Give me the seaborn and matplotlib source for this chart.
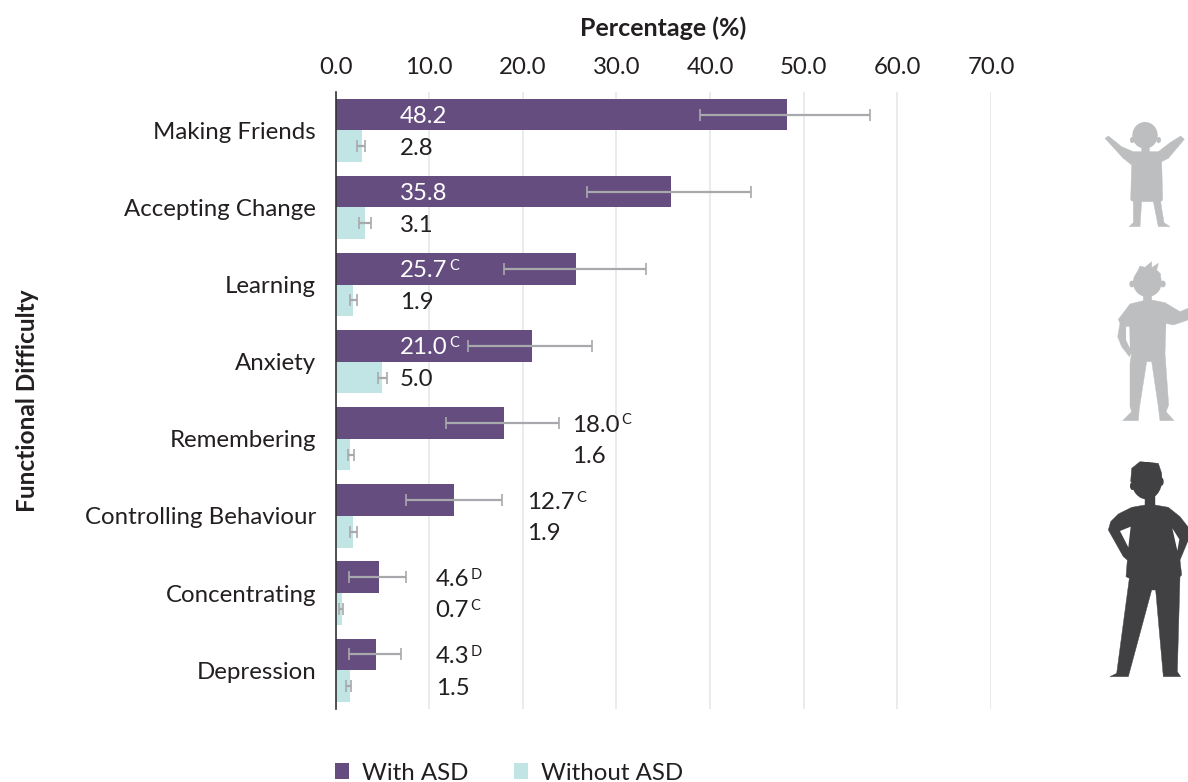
import matplotlib
matplotlib.use('Agg')
import matplotlib.pyplot as plt
from matplotlib.patches import Ellipse, Polygon
import numpy as np
import pandas as pd
import seaborn as sns

categories = ['Making Friends', 'Accepting Change', 'Learning', 'Anxiety',
              'Remembering', 'Controlling Behaviour', 'Concentrating', 'Depression']
with_asd = [48.2, 35.8, 25.7, 21.0, 18.0, 12.7, 4.6, 4.3]
without_asd = [2.8, 3.1, 1.9, 5.0, 1.6, 1.9, 0.7, 1.5]
with_low = [38.9, 26.9, 18.0, 14.1, 11.8, 7.5, 1.4, 1.4]
with_high = [57.1, 44.4, 33.2, 27.4, 23.9, 17.8, 7.5, 7.0]
without_low = [2.3, 2.5, 1.6, 4.5, 1.3, 1.6, 0.4, 1.1]
without_high = [3.2, 3.8, 2.3, 5.5, 2.0, 2.3, 0.8, 1.7]
with_notes = ['', '', 'C', 'C', 'C', 'C', 'D', 'D']
without_notes = ['', '', '', '', '', '', 'C', '']
label_x = [6.9, 6.9, 6.9, 6.9, 25.3, 20.5, 10.7, 10.7]
x_ticks = [0, 10, 20, 30, 40, 50, 60, 70]

PURPLE = '#654d80'
TEAL = '#c0e5e4'
TEXT = '#231f20'
ERR = '#a7a9ac'
FS = 17.3

sns.set_theme(style='white')
plt.rcParams['font.family'] = ['Lato', 'DejaVu Sans']
plt.rcParams['text.color'] = TEXT

df = pd.DataFrame({
    'Difficulty': categories * 2,
    'Percentage': with_asd + without_asd,
    'Group': ['With ASD'] * 8 + ['Without ASD'] * 8,
})

W, H = 1188, 782
fig = plt.figure(figsize=(W / 100, H / 100), dpi=100)
ax = fig.add_axes([335.5 / W, 1 - 708.8 / H, (991 - 335.5) / W, (708.8 - 91.8) / H])

sns.barplot(data=df, y='Difficulty', x='Percentage', hue='Group', order=categories,
            palette=[PURPLE, TEAL], width=0.82, gap=0, saturation=1, errorbar=None,
            linewidth=0, ax=ax)

ax.set_xlim(0, 70)
ax.set_ylim(7.5, -0.5)
ax.set_xticks(x_ticks, [f'{t:.1f}' for t in x_ticks])
ax.xaxis.tick_top()
ax.xaxis.set_label_position('top')
ax.tick_params(axis='x', length=0, pad=10, labelsize=FS, labelcolor=TEXT)
ax.tick_params(axis='y', length=0, pad=14, labelsize=FS, labelcolor=TEXT)
ax.set_xlabel('Percentage (%)', fontsize=18, fontweight='bold', labelpad=15, color=TEXT)
ax.set_ylabel('Functional Difficulty', fontsize=17.6, fontweight='bold', color=TEXT)
ax.yaxis.set_label_coords((39 - 335.5) / (991 - 335.5), 0.5)
ax.grid(axis='x', color='#e6e7e8', lw=1.2)
ax.set_axisbelow(True)
for side in ['top', 'right', 'bottom']:
    ax.spines[side].set_visible(False)
ax.spines['left'].set_color('#333333')
ax.spines['left'].set_linewidth(1.2)
ax.spines['left'].set_zorder(6)


def add_series(bars, vals, low, high, notes, on_bar_color):
    ys = [b.get_y() + b.get_height() / 2 for b in bars]
    vals = np.array(vals)
    xerr = [vals - np.array(low), np.array(high) - vals]
    ax.errorbar(vals, ys, xerr=xerr, fmt='none', ecolor=ERR, elinewidth=1.6,
                capsize=4.2, capthick=1.2, zorder=4)
    for i, y in enumerate(ys):
        # white text only where the label sits on a long purple bar
        col = 'white' if on_bar_color and vals[i] > label_x[i] else TEXT
        txt = ax.text(label_x[i], y, f'{vals[i]:.1f}', va='center_baseline', ha='left',
                      fontsize=FS, color=col, zorder=5)
        if notes[i]:
            ax.annotate(notes[i], xy=(1, 0.72), xycoords=txt, xytext=(1, 0),
                        textcoords='offset points', fontsize=10.5, color=col,
                        va='center', ha='left', zorder=5)


add_series(ax.containers[0], with_asd, with_low, with_high, with_notes, True)
add_series(ax.containers[1], without_asd, without_low, without_high, without_notes, False)

handles, labels = ax.get_legend_handles_labels()
ax.legend(handles, labels, loc='center left', ncol=2, frameon=False, fontsize=FS,
          bbox_to_anchor=(335 / W, 1 - 773 / H), bbox_transform=fig.transFigure,
          handlelength=0.58, handleheight=0.62, handletextpad=0.54, columnspacing=1.9,
          borderpad=0, borderaxespad=0, labelcolor=TEXT)

# decorative silhouettes, drawn in reference pixel space
art = fig.add_axes([0, 0, 1, 1], zorder=10)
art.set_xlim(0, W)
art.set_ylim(H, 0)
art.axis('off')
art.patch.set_alpha(0)


def shape(points, x0, y0, color):
    pts = [(x0 + x / 3, y0 + y / 3) for x, y in points]
    art.add_patch(Polygon(pts, closed=True, fc=color, ec=color, lw=0.3))


def blob(cx, cy, w, h, x0, y0, color):
    art.add_patch(Ellipse((x0 + cx / 3, y0 + cy / 3), w / 3, h / 3, fc=color, ec='none'))


GREY = '#bcbec0'
DARK = '#414042'

# boy with raised arms
x0, y0 = 1090, 110
blob(165, 76, 76, 80, x0, y0, GREY)
blob(127, 90, 14, 18, x0, y0, GREY)
blob(206, 90, 14, 18, x0, y0, GREY)
shape([(45, 85), (55, 78), (95, 110), (130, 125), (155, 125), (155, 105), (178, 105),
       (178, 125), (205, 125), (240, 98), (272, 78), (283, 88), (235, 145), (215, 155),
       (218, 270), (212, 275), (222, 338), (240, 350), (205, 350), (190, 275), (155, 275),
       (150, 350), (117, 350), (130, 338), (130, 275), (122, 270), (125, 165), (100, 145)],
      x0, y0, GREY)

# boy waving
blob(172, 517, 86, 88, x0, y0, GREY)
blob(126, 522, 16, 20, x0, y0, GREY)
blob(219, 522, 16, 20, x0, y0, GREY)
shape([(140, 490), (150, 468), (165, 472), (185, 455), (185, 473), (205, 460), (200, 480),
       (212, 492), (210, 510), (140, 510)], x0, y0, GREY)
shape([(160, 545), (160, 572), (120, 582), (85, 628), (90, 640), (83, 680), (95, 710),
       (118, 740), (125, 728), (120, 760), (120, 890), (125, 905), (98, 932), (145, 932),
       (148, 895), (170, 755), (185, 755), (205, 890), (210, 932), (252, 932), (228, 905),
       (236, 885), (225, 730), (228, 640), (250, 645), (294, 630), (294, 595), (270, 605),
       (225, 578), (185, 570), (185, 545)], x0, y0, GREY)
art.add_patch(Polygon([(x0 + 108 / 3, y0 + 650 / 3), (x0 + 118 / 3, y0 + 650 / 3),
                       (x0 + 120 / 3, y0 + 715 / 3), (x0 + 108 / 3, y0 + 690 / 3)],
                      fc='white', ec='none', zorder=3))

# man, hands on hips
x0, y0 = 1090, 450
blob(170, 92, 92, 112, x0, y0, DARK)
blob(127, 108, 14, 24, x0, y0, DARK)
blob(215, 95, 12, 24, x0, y0, DARK)
shape([(122, 95), (125, 55), (150, 35), (205, 40), (215, 70), (215, 90)], x0, y0, DARK)
shape([(165, 130), (165, 165), (125, 172), (85, 192), (62, 215), (55, 240), (100, 320),
       (112, 330), (108, 380), (118, 385), (80, 670), (60, 680), (115, 680), (185, 420),
       (197, 420), (220, 680), (272, 680), (262, 665), (270, 380), (275, 375), (270, 330),
       (295, 270), (295, 232), (270, 200), (235, 172), (195, 165), (195, 130)], x0, y0, DARK)
for hole in ([(90, 243), (122, 230), (115, 292)], [(247, 235), (268, 268), (262, 302)]):
    art.add_patch(Polygon([(x0 + x / 3, y0 + y / 3) for x, y in hole],
                          fc='white', ec='none', zorder=3))

fig.savefig('out.png', dpi=100)
